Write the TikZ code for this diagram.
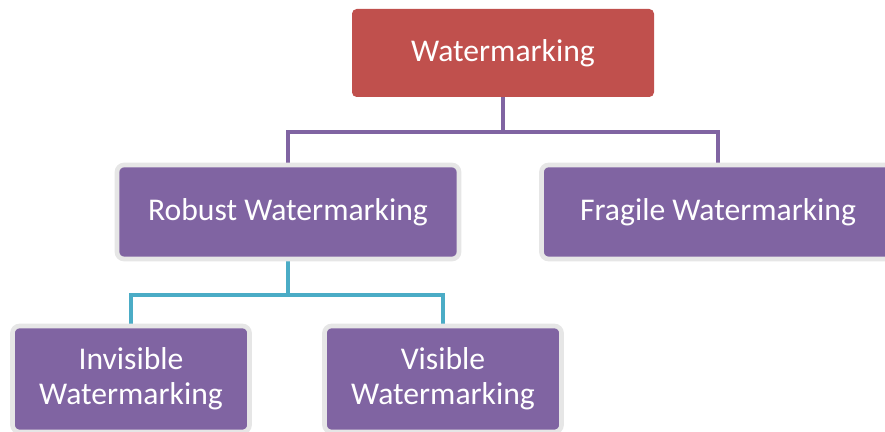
\documentclass[tikz,border=0pt]{standalone}
\usepackage{fontspec}
\setmainfont{Carlito}
\usetikzlibrary{backgrounds}

\definecolor{rootred}{HTML}{C0504D}
\definecolor{leafpurple}{HTML}{8064A2}
\definecolor{linkteal}{HTML}{4BACC6}
\definecolor{rimgray}{HTML}{E6E6E6}

\begin{document}
\begin{tikzpicture}[x=0.03cm, y=-0.03cm,
        root/.style = {fill=rootred, rounded corners=4pt, text=white, align=center,
                       inner sep=0pt, font=\fontsize{27}{30}\selectfont},
        leaf/.style = {fill=leafpurple, draw=rimgray, line width=4pt, rounded corners=6pt,
                       text=white, align=center, inner sep=0pt, font=\fontsize{27}{30}\selectfont},
        purpleline/.style = {draw=leafpurple, line width=3.5pt},
        tealline/.style = {draw=linkteal, line width=3.5pt}]
                \useasboundingbox (0,0) rectangle (885,432);

                \node[root, minimum width=302*0.03cm, minimum height=88*0.03cm] at (503, 53) (wm) {Watermarking};
                \node[leaf, minimum width=342*0.03cm, minimum height=94*0.03cm] at (288, 212) (robust) {Robust Watermarking};
                \node[leaf, minimum width=353*0.03cm, minimum height=94*0.03cm] at (718, 212) (fragile) {Fragile Watermarking};
                \node[leaf, minimum width=237*0.03cm, minimum height=106*0.03cm] at (131, 379) (invisible) {Invisible\\Watermarking};
                \node[leaf, minimum width=237*0.03cm, minimum height=106*0.03cm] at (443, 379) (visible) {Visible\\Watermarking};

                \begin{scope}[on background layer]
                \draw [purpleline] (wm.south) -- ++(0, 35) -| (robust.north);
                \draw [purpleline] (wm.south) -- ++(0, 35) -| (fragile.north);
                \draw [tealline] (robust.south) -- ++(0, 34) -| (invisible.north);
                \draw [tealline] (robust.south) -- ++(0, 34) -| (visible.north);
                \end{scope}
\end{tikzpicture}
\end{document}
